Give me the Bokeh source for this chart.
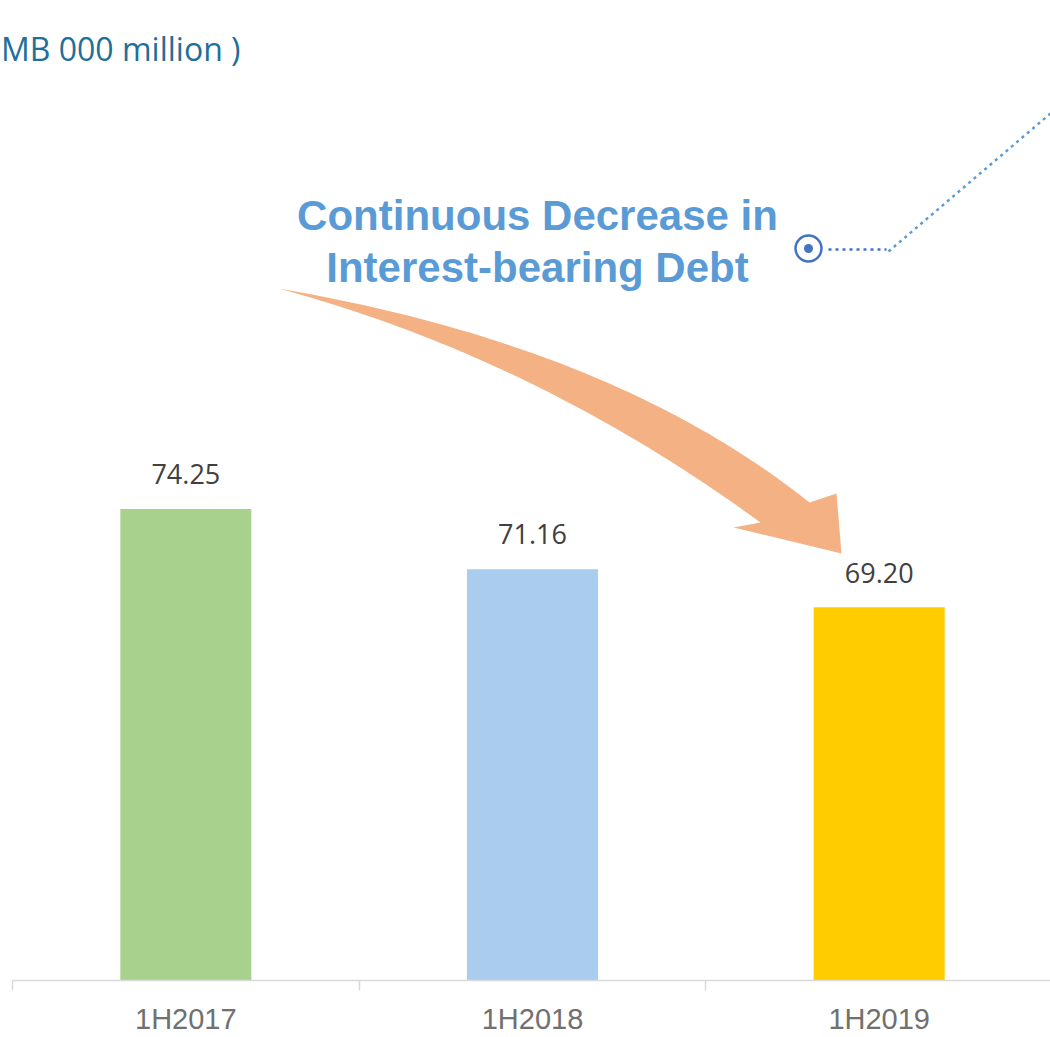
import numpy as np
from bokeh.plotting import figure
from bokeh.models import Range1d, FixedTicker
from bokeh.core.properties import value
from bokeh.embed import file_html
from bokeh.resources import INLINE

# ---- data ----
categories = ["1H2017", "1H2018", "1H2019"]
debt = [74.25, 71.16, 69.20]
debt_labels = ["74.25", "71.16", "69.20"]
bar_colors = ["#A9D18E", "#AACCEE", "#FFCC00"]
unit_title = "MB 000 million )"
callout_lines = ["Continuous Decrease in", "Interest-bearing Debt"]

# ---- layout constants (pixels) ----
W, H = 1050, 1037
FRAME_H = 980
X0_PX = 12.0          # pixel position of the first category boundary
CAT_PX = 346.67       # pixel width of one category
Y_BASE = 50.0         # value at the axis line
PX_PER_UNIT = 19.44
BASELINE_FIX = 0.36   # empirical shift (em) for alphabetic baseline in svg output

x_start = -X0_PX / CAT_PX
x_end = (W - X0_PX) / CAT_PX
y_end = Y_BASE + FRAME_H / PX_PER_UNIT


def dx(px):
    return (px - X0_PX) / CAT_PX


def dy(py):
    return Y_BASE + (FRAME_H - py) / PX_PER_UNIT


p = figure(width=W, height=H, x_range=Range1d(x_start, x_end), y_range=Range1d(Y_BASE, y_end),
           output_backend="svg", toolbar_location=None, y_axis_location=None,
           min_border_left=0, min_border_right=0, min_border_top=0, min_border_bottom=H - FRAME_H,
           outline_line_color=None, background_fill_color="white", border_fill_color="white")
p.xgrid.visible = False
p.ygrid.visible = False

centers = [i + 0.5 for i in range(len(categories))]

# bars
p.vbar(x=centers, top=debt, bottom=Y_BASE, width=0.378, fill_color=bar_colors, line_color=None)

# value labels
LBL = 27
p.text(x=centers, y=debt, text=debt_labels, y_offset=-25 - BASELINE_FIX * LBL, text_align="center",
       text_baseline="alphabetic", text_font=value("Open Sans"), text_font_size=f"{LBL}px",
       text_color="#404040")

# curved arrow (decoration)
def qbez(p0, p1, p2, n=60):
    t = np.linspace(0, 1, n)[:, None]
    return (1 - t) ** 2 * np.array(p0) + 2 * (1 - t) * t * np.array(p1) + t ** 2 * np.array(p2)

upper = qbez((278, 288), (612, 345), (809, 502))
lower = qbez((278, 288), (534, 357), (760, 522))
head = [(836, 493), (841, 553), (733, 527)]
poly = list(map(tuple, upper)) + head + list(map(tuple, lower[::-1]))
p.patch(x=[dx(a) for a, b in poly], y=[dy(b) for a, b in poly], fill_color="#F4B183", line_color=None)

# callout text
CF = 42
p.text(x=[dx(537)] * 2, y=[dy(230 - BASELINE_FIX * CF), dy(282 - BASELINE_FIX * CF)], text=callout_lines,
       text_align="center", text_baseline="alphabetic", text_font=value("Liberation Sans"),
       text_font_style="bold", text_font_size=f"{CF}px", text_color="#5B9BD5")

# unit title
TF = 32
p.text(x=[dx(0.5)], y=[dy(60 - BASELINE_FIX * TF)], text=[unit_title], text_align="left",
       text_baseline="alphabetic", text_font=value("Open Sans"), text_font_size=f"{TF}px",
       text_color="#1F6F98")

# leader line + marker
p.line(x=[dx(828), dx(886)], y=[dy(249), dy(249)], line_color="#4472C4", line_width=2.5, line_dash="3 4")
p.line(x=[dx(888), dx(1070)], y=[dy(251), dy(251 - 0.852 * 182)], line_color="#5B9BD5",
       line_width=2.5, line_dash="3 4")
p.scatter(x=[dx(808)], y=[dy(248)], marker="circle", size=26, fill_color="white",
          line_color="#4472C4", line_width=2.5)
p.scatter(x=[dx(808)], y=[dy(248)], marker="circle", size=9, fill_color="#4472C4", line_color=None)

# x axis: labels at centers, tick marks at category boundaries
ax = p.xaxis[0]
ax.ticker = FixedTicker(ticks=centers, minor_ticks=list(range(len(categories) + 1)))
ax.major_label_overrides = {c: lab for c, lab in zip(centers, categories)}
ax.bounds = (0, len(categories))
ax.axis_line_color = "#D9D9D9"
ax.axis_line_width = 1.5
ax.major_tick_line_color = None
ax.major_tick_in = 0
ax.major_tick_out = 0
ax.minor_tick_in = 0
ax.minor_tick_out = 10
ax.minor_tick_line_color = "#D9D9D9"
ax.minor_tick_line_width = 1.5
ax.major_label_standoff = 12
ax.major_label_text_font = "Liberation Sans"
ax.major_label_text_font_size = "29px"
ax.major_label_text_color = "#707070"

open("out.html", "w").write(file_html(p, INLINE))
